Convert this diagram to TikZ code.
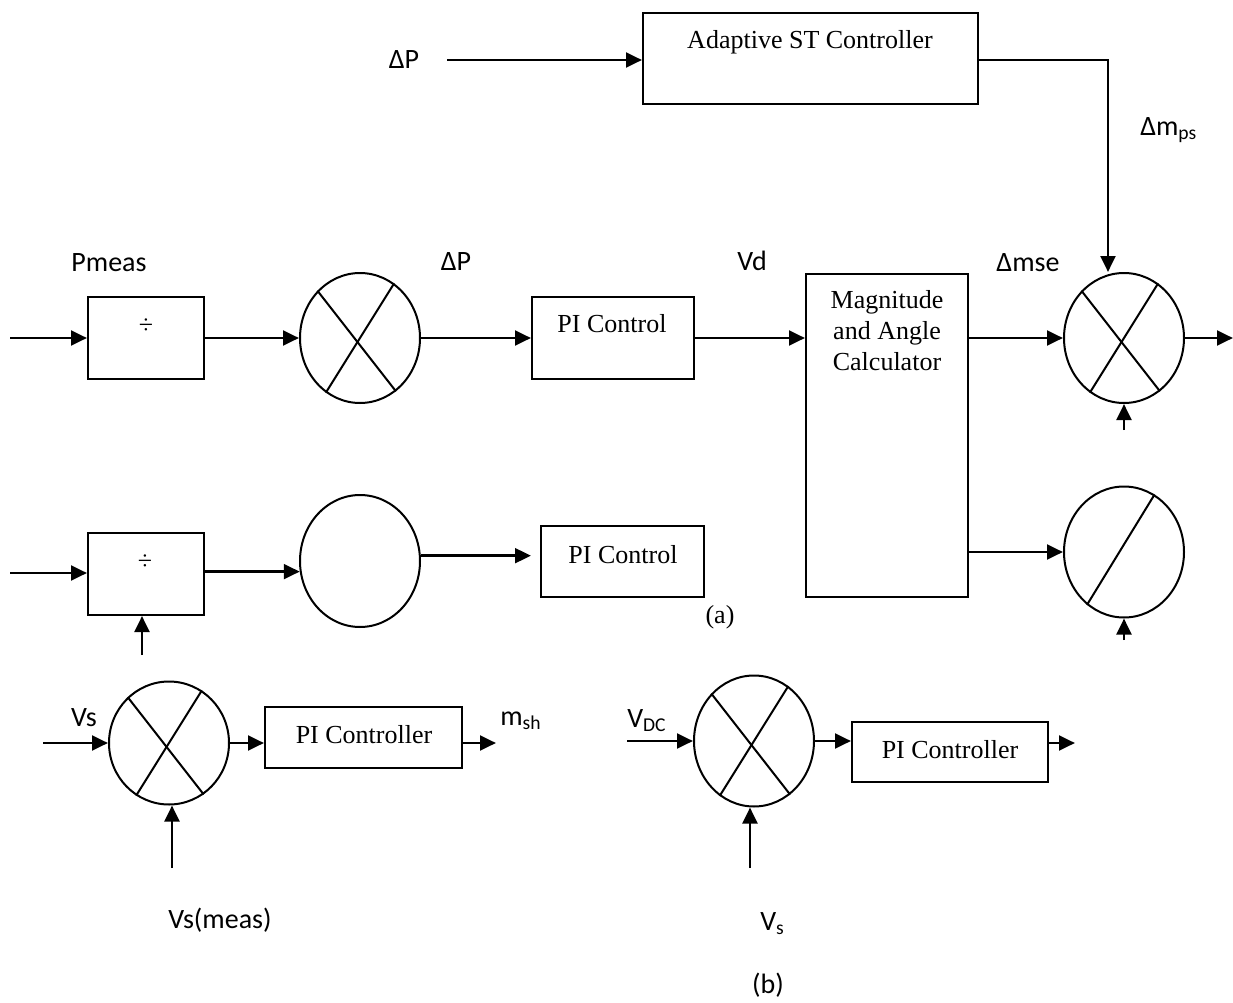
\documentclass[tikz,border=0pt]{standalone}
\usepackage{fontspec}
\setmainfont{Liberation Serif}
\newfontfamily\lblfont{Carlito}
\usetikzlibrary{arrows.meta,shapes.geometric,fit,calc}
\tikzset{
 box/.style={draw, line width=1.5pt, inner sep=0pt},
 summ/.style={draw, ellipse, line width=1.5pt, inner sep=0pt, minimum width=90pt},
 arr/.style={line width=2.2pt, -{Triangle[length=12pt,width=11pt]}},
 xln/.style={line width=1.5pt},
 sans/.style={font=\lblfont\fontsize{21}{25}\selectfont, inner sep=0pt},
 serif/.style={font=\fontsize{19.5}{23.25}\selectfont, inner sep=0pt},
}
\begin{document}
\begin{tikzpicture}[x=0.75pt,y=-0.75pt]
\useasboundingbox (0,0) rectangle (1233,1003);

% ---------- top: adaptive controller ----------
\coordinate (dp) at (447,60);
\node[box, fit={(643,13) (978,104)}] (adapt) {};
\node[serif, anchor=base] (adaptT) at (810,48) {Adaptive ST Controller};
\node[sans, anchor=base] (lbdp) at (404,68) {ΔP};
\coordinate (tr) at (1108,60);

% ---------- middle row ----------
\coordinate (in1) at (10,338);
\node[box, fit={(88,297) (204,379)}] (div1) {};
\node[serif] (div1T) at (146,326) {÷};
\node[summ, minimum height=97.5pt] (c1) at (360,338) {};
\node[box, fit={(532,297) (694,379)}] (pi1) {};
\node[serif, anchor=base] (pi1T) at (612,332) {PI Control};
\node[box, fit={(806,274) (968,597)}] (mag) {};
\node[serif, align=center] (magT) at (887,331) {Magnitude\\and Angle\\Calculator};
\node[summ, minimum height=97.5pt] (r1) at (1124,338) {};
\coordinate (out1) at (1233,338);
\coordinate (b1) at (1124,430);

\node[sans, anchor=base] (lbpm) at (109,271) {Pmeas};
\node[sans, anchor=base] (lbdp2) at (456,270) {ΔP};
\node[sans, anchor=base] (lbvd) at (752,270) {Vd};
\node[sans, anchor=base] (lbmse) at (1028,271) {Δmse};
\node[sans, anchor=base west] (lbmps) at (1140,135) {Δm\textsubscript{ps}};

% ---------- lower row ----------
\coordinate (in2) at (10,573);
\node[box, fit={(88,533) (204,615)}] (div2) {};
\node[serif] (div2T) at (145,562) {÷};
\coordinate (b2) at (142,655);
\node[summ, minimum height=99pt] (c2) at (360,561) {};
\node[box, fit={(541,526) (704,597)}] (pi2) {};
\node[serif, anchor=base] (pi2T) at (623,563) {PI Control};
\node[summ, minimum height=98.25pt] (r2) at (1124,552) {};
\coordinate (b3) at (1124,640);
\node[serif, anchor=base] (lba) at (720,623) {(a)};

% ---------- section (b) ----------
\coordinate (i3) at (43,743);
\node[summ, minimum height=92.25pt] (c3) at (169,743) {};
\coordinate (b4) at (172,868);
\node[box, fit={(265,707) (462,768)}] (pc1) {};
\node[serif, anchor=base] (pc1T) at (364,743) {PI Controller};
\coordinate (out3) at (496,743);
\node[sans, anchor=base] (lbvs) at (84,726) {Vs};
\node[sans, anchor=base west] (lbmsh) at (500,725) {m\textsubscript{sh}};
\node[sans, anchor=base] (lbvsm) at (220,928) {Vs(meas)};

\coordinate (i4) at (627,741);
\node[summ, minimum height=98.25pt] (c4) at (754,741) {};
\coordinate (b5) at (750,868);
\node[box, fit={(852,722) (1048,782)}] (pc2) {};
\node[serif, anchor=base] (pc2T) at (950,758) {PI Controller};
\coordinate (out4) at (1075,743);
\node[sans, anchor=base west] (lbvdc) at (627,727) {V\textsubscript{DC}};
\node[sans, anchor=base west] (lbvs2) at (760,930) {V\textsubscript{s}};
\node[sans, anchor=base] (lbb) at (768,993) {(b)};

% ---------- X marks in the summing circles ----------
\foreach \c in {c1,r1,c3,c4}{
  \draw[xln] (\c.132) -- (\c.-56);
  \draw[xln] (\c.-122) -- (\c.58);
}
\draw[xln] (r2.-125) -- (r2.62);

% ---------- connectors ----------
\draw[arr] (dp) -- (dp -| adapt.west);
\draw[arr] (adapt.east |- dp) -- (tr) -- (tr |- r1.north);

\draw[arr] (in1) -- (in1 -| div1.west);
\draw[arr] (div1.east) -- (c1.west);
\draw[arr] (c1.east) -- (pi1.west);
\draw[arr] (pi1.east) -- (pi1.east -| mag.west);
\draw[arr] (mag.east |- r1.west) -- (r1.west);
\draw[arr] (r1.east) -- (out1);
\draw[arr] (b1) -- (r1.south);

\draw[arr] (in2) -- (in2 -| div2.west);
\draw[arr] (b2) -- (b2 |- div2.south);
\draw[arr] (div2.east |- c2.190) -- (c2.190);
\draw[arr] (c2.5) -- ($(c2.5 -| pi2.west)+(-9,0)$);
\draw[arr] (mag.east |- r2.west) -- (r2.west);
\draw[arr] (b3) -- (r2.south);

\draw[arr] (i3) -- (c3.west);
\draw[arr] (b4) -- (b4 |- c3.south);
\draw[arr] (c3.east) -- (c3.east -| pc1.west);
\draw[arr] (pc1.east |- out3) -- (out3);

\draw[arr] (i4) -- (c4.west);
\draw[arr] (b5) -- (b5 |- c4.south);
\draw[arr] (c4.east) -- (c4.east -| pc2.west);
\draw[arr] (pc2.east |- out4) -- (out4);
\end{tikzpicture}
\end{document}
